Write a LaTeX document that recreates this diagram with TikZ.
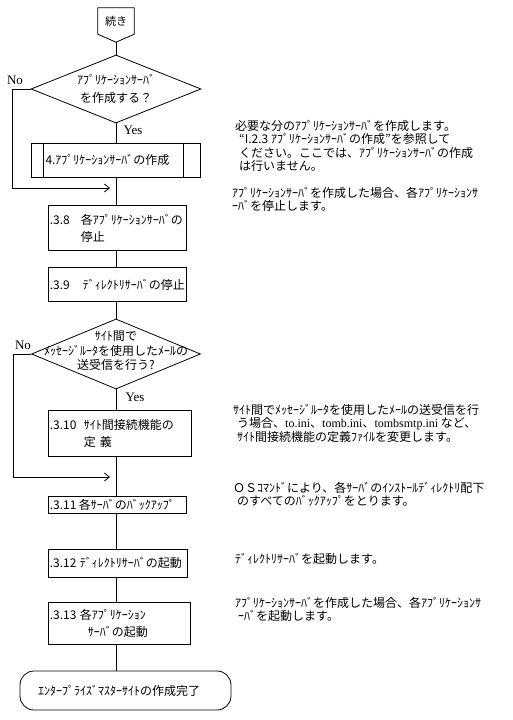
\documentclass[tikz,border=0pt]{standalone}
\usepackage{fontspec}
\setmainfont{Noto Sans CJK JP}
\newfontfamily\latinfont{Liberation Serif}
\usetikzlibrary{positioning,shapes.geometric,arrows.meta,calc}

\newcommand{\stepnum}[2][31pt]{\makebox[#1][l]{#2}}

\tikzset{
  flow/.style={line width=0.8pt},
  noflow/.style={line width=0.8pt, -{Straight Barb[length=5pt,width=8pt]}},
  decision/.style={diamond, draw, line width=0.8pt, inner sep=0pt, aspect=2.5},
  proc/.style={draw, line width=0.8pt, anchor=north west, align=left, inner xsep=1.5pt, inner ysep=0pt, font=\fontsize{12}{17}\selectfont},
  note/.style={anchor=north west, align=left, inner sep=0pt, font=\fontsize{12}{13.5}\selectfont},
  yesno/.style={inner sep=0pt, font=\latinfont\fontsize{13}{13}\selectfont},
}

\begin{document}
\begin{tikzpicture}[x=1pt, y=-1pt]
    \useasboundingbox (0,0) rectangle (513,720);

    % 開始
    \node[minimum width=36pt, minimum height=26pt, inner sep=0pt, font=\fontsize{11}{11}\selectfont] (start) at (116,21) {続き};
    \coordinate (tip) at ($(start.south)+(0,8)$);
    \draw[flow] (start.north west) -- (start.north east) -- (start.south east) -- (tip) -- (start.south west) -- cycle;

    % アプリケーションサーバの作成
    \node[decision, minimum width=170pt, minimum height=68pt] (ask1) at (116,89) {};
    \node[align=center, inner sep=0pt, font=\fontsize{12}{18}\selectfont] (ask1txt) at (ask1) {ｱﾌﾟﾘｹｰｼｮﾝｻｰﾊﾞ\\を作成する？};
    \node[yesno] (no1) at (15,80) {No};
    \node[yesno] (yes1) at (133,130) {Yes};

    \node[draw, line width=0.8pt, minimum height=34pt, text width=141pt, inner xsep=14pt, inner ysep=0pt, align=left, font=\fontsize{12}{17}\selectfont] (mk4) at (116,160) {4.ｱﾌﾟﾘｹｰｼｮﾝｻｰﾊﾞの作成};
    \draw[flow] ([xshift=12pt]mk4.north west) -- ([xshift=12pt]mk4.south west);
    \draw[flow] ([xshift=-18pt]mk4.north east) -- ([xshift=-18pt]mk4.south east);
    \coordinate (back1) at (110,188);

    % 停止
    \node[proc, minimum height=45pt, text width=135pt] (s38) at (48,205) {\stepnum{.3.8}各ｱﾌﾟﾘｹｰｼｮﾝｻｰﾊﾞの\\\hspace*{31pt}停止};
    \node[proc, minimum height=34pt, text width=135pt] (s39) at (48,267) {\stepnum[33pt]{.3.9}ﾃﾞｨﾚｸﾄﾘｻｰﾊﾞの停止};

    % サイト間接続
    \node[decision, minimum width=169pt, minimum height=70pt] (ask2) at (116,354) {};
    \node[align=center, inner sep=0pt, font=\fontsize{12}{14.5}\selectfont] (ask2txt) at (116,351) {ｻｲﾄ間で\\ﾒｯｾｰｼﾞﾙｰﾀを使用したﾒｰﾙの\\送受信を行う?};
    \node[yesno] (no2) at (23,345) {No};
    \node[yesno] (yes2) at (135,397) {Yes};

    \node[proc, minimum height=46pt, text width=140pt] (s310) at (48,410) {\stepnum[34pt]{.3.10}ｻｲﾄ間接続機能の\\\hspace*{34pt}定 義};
    \coordinate (back2) at (110,477);

    % バックアップと起動
    \node[proc, minimum height=17pt, text width=135pt] (s311) at (48,496) {\stepnum[29pt]{.3.11}各ｻｰﾊﾞのﾊﾞｯｸｱｯﾌﾟ};
    \node[proc, minimum height=28pt, text width=136pt] (s312) at (48,549) {\stepnum[30pt]{.3.12}ﾃﾞｨﾚｸﾄﾘｻｰﾊﾞの起動};
    \node[proc, minimum height=42pt, text width=139pt] (s313) at (48,602) {\stepnum[30pt]{.3.13}各ｱﾌﾟﾘｹｰｼｮﾝ\\\hspace*{38pt}ｻｰﾊﾞの起動};

    % 終了
    \node[draw, line width=0.8pt, rounded corners=14pt, minimum height=39pt, text width=175pt, inner xsep=18pt, align=left, font=\fontsize{12}{12}\selectfont] (done) at (125.5,690.5) {ｴﾝﾀｰﾌﾟﾗｲｽﾞﾏｽﾀｰｻｲﾄの作成完了};

    % 流れ
    \draw[flow] (tip) -- (ask1.north);
    \draw[flow] (ask1.south) -- (mk4.north);
    \draw[flow] (mk4.south) -- (s38.north -| start);
    \draw[flow] (s38.south -| start) -- (s39.north -| start);
    \draw[flow] (s39.south -| start) -- (ask2.north);
    \draw[flow] (ask2.south) -- (s310.north -| start);
    \draw[flow] (s310.south -| start) -- (s311.north -| start);
    \draw[flow] (s311.south -| start) -- (s312.north -| start);
    \draw[flow] (s312.south -| start) -- (s313.north -| start);
    \draw[flow] (s313.south -| start) -- (done.north -| start);
    \draw[noflow] (ask1.west) -- ++(-18,0) |- (back1);
    \draw[noflow] (ask2.west) -- ++(-18,0) |- (back2);

    % 説明
    \node[note] (n1) at (235,120) {必要な分のｱﾌﾟﾘｹｰｼｮﾝｻｰﾊﾞを作成します。\\\hspace*{4pt}“I.2.3 ｱﾌﾟﾘｹｰｼｮﾝｻｰﾊﾞの作成”を参照して\\\hspace*{4pt}ください。ここでは、ｱﾌﾟﾘｹｰｼｮﾝｻｰﾊﾞの作成\\\hspace*{4pt}は行いません。};
    \node[note] (n2) at (232,187) {ｱﾌﾟﾘｹｰｼｮﾝｻｰﾊﾞを作成した場合、各ｱﾌﾟﾘｹｰｼｮﾝｻ\\ｰﾊﾞを停止します。};
    \node[note] (n3) at (233,404) {ｻｲﾄ間でﾒｯｾｰｼﾞﾙｰﾀを使用したﾒｰﾙの送受信を行\\\hspace*{4pt}う場合、{\latinfont to.ini}、{\latinfont tomb.ini}、{\latinfont tombsmtp.ini} など、\\\hspace*{4pt}ｻｲﾄ間接続機能の定義ﾌｧｲﾙを変更します。};
    \node[note] (n4) at (233,482) {ＯＳｺﾏﾝﾄﾞにより、各ｻｰﾊﾞのｲﾝｽﾄｰﾙﾃﾞｨﾚｸﾄﾘ配下\\\hspace*{4pt}のすべてのﾊﾞｯｸｱｯﾌﾟをとります。};
    \node[note] (n5) at (235,553) {ﾃﾞｨﾚｸﾄﾘｻｰﾊﾞを起動します。};
    \node[note] (n6) at (235,597) {ｱﾌﾟﾘｹｰｼｮﾝｻｰﾊﾞを作成した場合、各ｱﾌﾟﾘｹｰｼｮﾝｻ\\\hspace*{3pt}ｰﾊﾞを起動します。};
\end{tikzpicture}
\end{document}
